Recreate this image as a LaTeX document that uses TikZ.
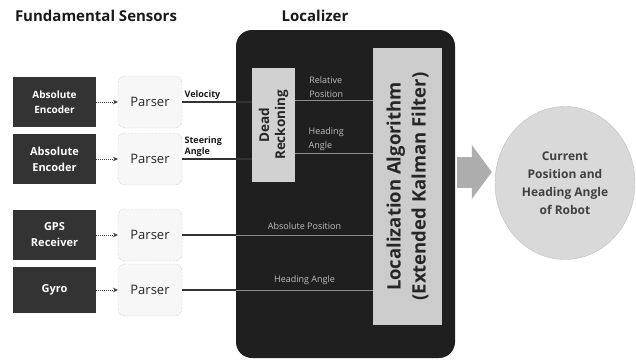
\documentclass[tikz,border=0pt]{standalone}
\usepackage{fontspec}
\setmainfont{Open Sans}
\usepackage{tikz}
\usetikzlibrary{shapes.geometric, arrows.meta, positioning, calc}

\begin{document}
\begin{tikzpicture}[
    x=1pt, y=-1pt,
    node distance=22pt,
    heading/.style={font=\fontsize{15}{17}\selectfont\bfseries, text=black!90},
    sensor/.style={rectangle, fill=black!80, text=white, minimum width=83pt, minimum height=50pt, inner sep=0pt, outer sep=0pt, align=center, font=\fontsize{11}{16}\selectfont\bfseries},
    parser/.style={rectangle, draw=black!35, densely dotted, rounded corners=7pt, fill=black!3, minimum width=64pt, minimum height=52pt, inner sep=0pt, outer sep=0pt, font=\fontsize{13}{15}\selectfont, text=black!85},
    localizer/.style={rectangle, fill=black!88, rounded corners=16pt, minimum width=219pt, minimum height=328pt, inner sep=0pt, outer sep=0pt},
    module/.style={rectangle, fill=black!18, inner sep=0pt, outer sep=0pt, align=center, text=black!85, font=\bfseries},
    result/.style={ellipse, fill=black!15, draw=black!25, minimum width=140pt, minimum height=153pt, inner sep=0pt, align=center, font=\fontsize{12}{18}\selectfont\bfseries, text=black!75},
    feed/.style={-{Stealth[length=5pt,width=4.5pt]}, densely dotted, line width=1pt, black!75},
    sigline/.style={line width=1.2pt, black!80},
    innerline/.style={line width=0.6pt, black!45},
    sig/.style={font=\fontsize{9}{11}\selectfont\bfseries, text=black!90, align=left, inner sep=2pt},
    sigtag/.style={font=\fontsize{9}{14}\selectfont, text=black!25, align=left, inner sep=2pt},
    bigarrow/.style={-{Triangle[width=53pt,length=20pt]}, line width=31pt, black!32}
]
\useasboundingbox (0,0) rectangle (636,362);

% Titles
\node[heading] (senstitle) at (96,16) {Fundamental Sensors};
\node[heading] (loctitle) at (315,16) {Localizer};

% Localizer
\node[localizer] (loc) at (345.5,194) {};
\node[module, rotate=90, minimum width=114pt, minimum height=43pt, font=\fontsize{13.5}{16}\selectfont\bfseries] (dead) at (273.5,125) {Dead\\Reckoning};
\node[module, rotate=90, minimum width=277pt, minimum height=69pt, fill=black!20, font=\fontsize{18.5}{25}\selectfont\bfseries] (ekf) at (407.5,186.5) {Localization Algorithm\\(Extended Kalman Filter)};

% Sensors
\node[sensor, font=\fontsize{10}{15}\selectfont\bfseries] (enc1) at (54.5,102) {Absolute\\Encoder};
\node[sensor] (enc2) at (54.5,159) {Absolute\\Encoder};
\node[sensor] (gps) at (54.5,235) {GPS\\Receiver};
\node[sensor, minimum height=46pt] (gyro) at (54.5,290) {Gyro};

% Parsers
\node[parser, right=of enc1] (par1) {Parser};
\node[parser, right=of enc2] (par2) {Parser};
\node[parser, right=of gps] (par3) {Parser};
\node[parser, right=of gyro] (par4) {Parser};

% Result
\node[result] (robot) at (565,183) {Current\\Position and\\Heading Angle\\of Robot};

% Sensors to parsers
\foreach \s/\p in {enc1/par1, enc2/par2, gps/par3, gyro/par4}
    \draw[feed] (\s) -- (\p);

% Parsers to dead reckoning
\draw[sigline] (par1) -- (par1 -| dead.north) node[sig, pos=0, above right] {Velocity};
\draw[sigline] (par2) -- (par2 -| dead.north) node[sig, pos=0, above right] {Steering\\Angle};

% Dead reckoning to filter
\draw[innerline] ([yshift=25pt]dead.south) -- ([yshift=25pt]dead.south -| ekf.north) node[sigtag, pos=0.4, above] {Relative\\Position};
\draw[innerline] ([yshift=-28pt]dead.south) -- ([yshift=-28pt]dead.south -| ekf.north) node[sigtag, pos=0.4, above] {Heading\\Angle};

% Parsers to filter
\draw[sigline] (par3) -- (par3 -| loc.west);
\draw[innerline] (par3 -| loc.west) -- (par3 -| ekf.north) node[sigtag, midway, above, yshift=3pt] {Absolute Position};
\draw[sigline] (par4) -- (par4 -| loc.west);
\draw[innerline] (par4 -| loc.west) -- (par4 -| ekf.north) node[sigtag, midway, above, yshift=3pt] {Heading Angle};

% Output
\draw[bigarrow, shorten <=2pt, shorten >=3pt] ([yshift=11pt]robot.west -| loc.east) -- ([yshift=11pt]robot.west);

\end{tikzpicture}
\end{document}
